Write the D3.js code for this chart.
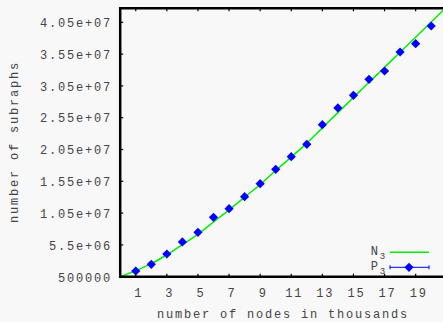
<!DOCTYPE html>
<html><head><meta charset="utf-8">
<script src="https://cdn.jsdelivr.net/npm/d3@7"></script>
<style>
html,body{margin:0;padding:0;background:#f8f8f8;}
svg{display:block;}
text{font-family:"Liberation Mono","DejaVu Sans Mono",monospace;font-size:12px;fill:#444;letter-spacing:1.8px;}
</style></head><body>
<svg id="c" width="443" height="322"></svg>
<script>
// ---- data ----
const nodesK = [1,2,3,4,5,6,7,8,9,10,11,12,13,14,15,16,17,18,19,20];
const p3Values = [1.40e6,2.45e6,4.07e6,5.96e6,7.48e6,9.84e6,11.19e6,13.08e6,15.12e6,17.39e6,
                  19.37e6,21.32e6,24.4e6,27.03e6,29.02e6,31.54e6,32.84e6,35.83e6,37.14e6,39.92e6];
const n3X = [0,1,2,3,4,5,6,7,8,9,10,11,12,13,14,15,16,17,18,19,20,21];
const n3Values = [0.5e6,1.45e6,2.55e6,3.95e6,5.55e6,7.2e6,9.1e6,11.0e6,13.0e6,15.0e6,17.2e6,
                  19.3e6,21.5e6,23.9e6,26.3e6,28.67e6,31.07e6,33.4e6,35.8e6,38.15e6,40.55e6,42.95e6];
const xTicks = [1,3,5,7,9,11,13,15,17,19];
const yTicks = [500000,5500000,10500000,15500000,20500000,25500000,30500000,35500000,40500000];
const yTickLabels = ["500000","5.5e+06","1.05e+07","1.55e+07","2.05e+07","2.55e+07","3.05e+07","3.55e+07","4.05e+07"];
const seriesNames = ["N","P"];

// ---- layout ----
const svg = d3.select("#c");
const L = 120.2, B = 276.7, T = 8.3, R = 120.2 + 21*15.55;
const x = d3.scaleLinear().domain([0,21]).range([L,R]);
const y = d3.scaleLinear().domain([500000,42700000]).range([B,T]);

svg.append("rect").attr("width",443).attr("height",322).attr("fill","#f8f8f8");

svg.append("defs").append("clipPath").attr("id","clip")
  .append("rect").attr("x",L).attr("y",T).attr("width",R-L).attr("height",B-T);

// N3 curve
svg.append("path")
  .datum(n3X.map((v,i)=>[v,n3Values[i]]))
  .attr("clip-path","url(#clip)")
  .attr("fill","none").attr("stroke","#00ee00").attr("stroke-width",1.5)
  .attr("d", d3.line().x(d=>x(d[0])).y(d=>y(d[1])).curve(d3.curveMonotoneX));

// P3 points
const diamond = s => `M0,${-s}L${s},0L0,${s}L${-s},0Z`;
svg.append("g").attr("clip-path","url(#clip)").selectAll("path.pt")
  .data(nodesK.map((v,i)=>[v,p3Values[i]]))
  .join("path").attr("class","pt")
  .attr("transform",d=>`translate(${x(d[0])},${y(d[1])})`)
  .attr("d",diamond(4.6)).attr("fill","#0000ff");

// axes (gnuplot style)
const axG = svg.append("g");
axG.append("line").attr("x1",L).attr("x2",L).attr("y1",T-1.2).attr("y2",B+1.2).attr("stroke","#000").attr("stroke-width",2.5);
axG.append("line").attr("x1",L-1.2).attr("x2",450).attr("y1",B).attr("y2",B).attr("stroke","#000").attr("stroke-width",2.5);
axG.append("line").attr("x1",L-1.2).attr("x2",450).attr("y1",T).attr("y2",T).attr("stroke","#000").attr("stroke-width",2.5);

// x ticks
xTicks.forEach(v=>{
  axG.append("line").attr("x1",x(v)).attr("x2",x(v)).attr("y1",B).attr("y2",B-3).attr("stroke","#000").attr("stroke-width",1.2);
  axG.append("line").attr("x1",x(v)).attr("x2",x(v)).attr("y1",T).attr("y2",T+3).attr("stroke","#000").attr("stroke-width",1.2);
  axG.append("text").attr("x",x(v)+3).attr("y",297).attr("text-anchor","middle").text(v);
});
// y ticks
yTicks.forEach((v,i)=>{
  axG.append("line").attr("x1",L).attr("x2",L+3).attr("y1",y(v)).attr("y2",y(v)).attr("stroke","#000").attr("stroke-width",1.2);
  axG.append("text").attr("x",112).attr("y",y(v)+4.8).attr("text-anchor","end").text(yTickLabels[i]);
});

// axis titles
svg.append("text").attr("x",283).attr("y",318).attr("text-anchor","middle").text("number of nodes in thousands");
svg.append("text").attr("transform","translate(18,142) rotate(-90)").attr("text-anchor","middle").text("number of subraphs");

// legend
const lg = svg.append("g");
[0,1].forEach(i=>{
  const ly = 252.3 + i*15;
  const t = lg.append("text").attr("x",387).attr("y",ly+2.5).attr("text-anchor","end");
  t.append("tspan").text(seriesNames[i]);
  t.append("tspan").attr("dy",4).attr("font-size","9px").text("3");
});
lg.append("line").attr("x1",390).attr("x2",429).attr("y1",252.3).attr("y2",252.3).attr("stroke","#00ee00").attr("stroke-width",1.5);
lg.append("line").attr("x1",390).attr("x2",429).attr("y1",267.3).attr("y2",267.3).attr("stroke","#0000ff").attr("stroke-width",1);
[390,429].forEach(xx=>lg.append("line").attr("x1",xx).attr("x2",xx).attr("y1",265.3).attr("y2",269.3).attr("stroke","#0000ff").attr("stroke-width",1));
lg.append("path").attr("transform","translate(409,267.3)").attr("d",diamond(4.6)).attr("fill","#0000ff");
</script>
</body></html>
